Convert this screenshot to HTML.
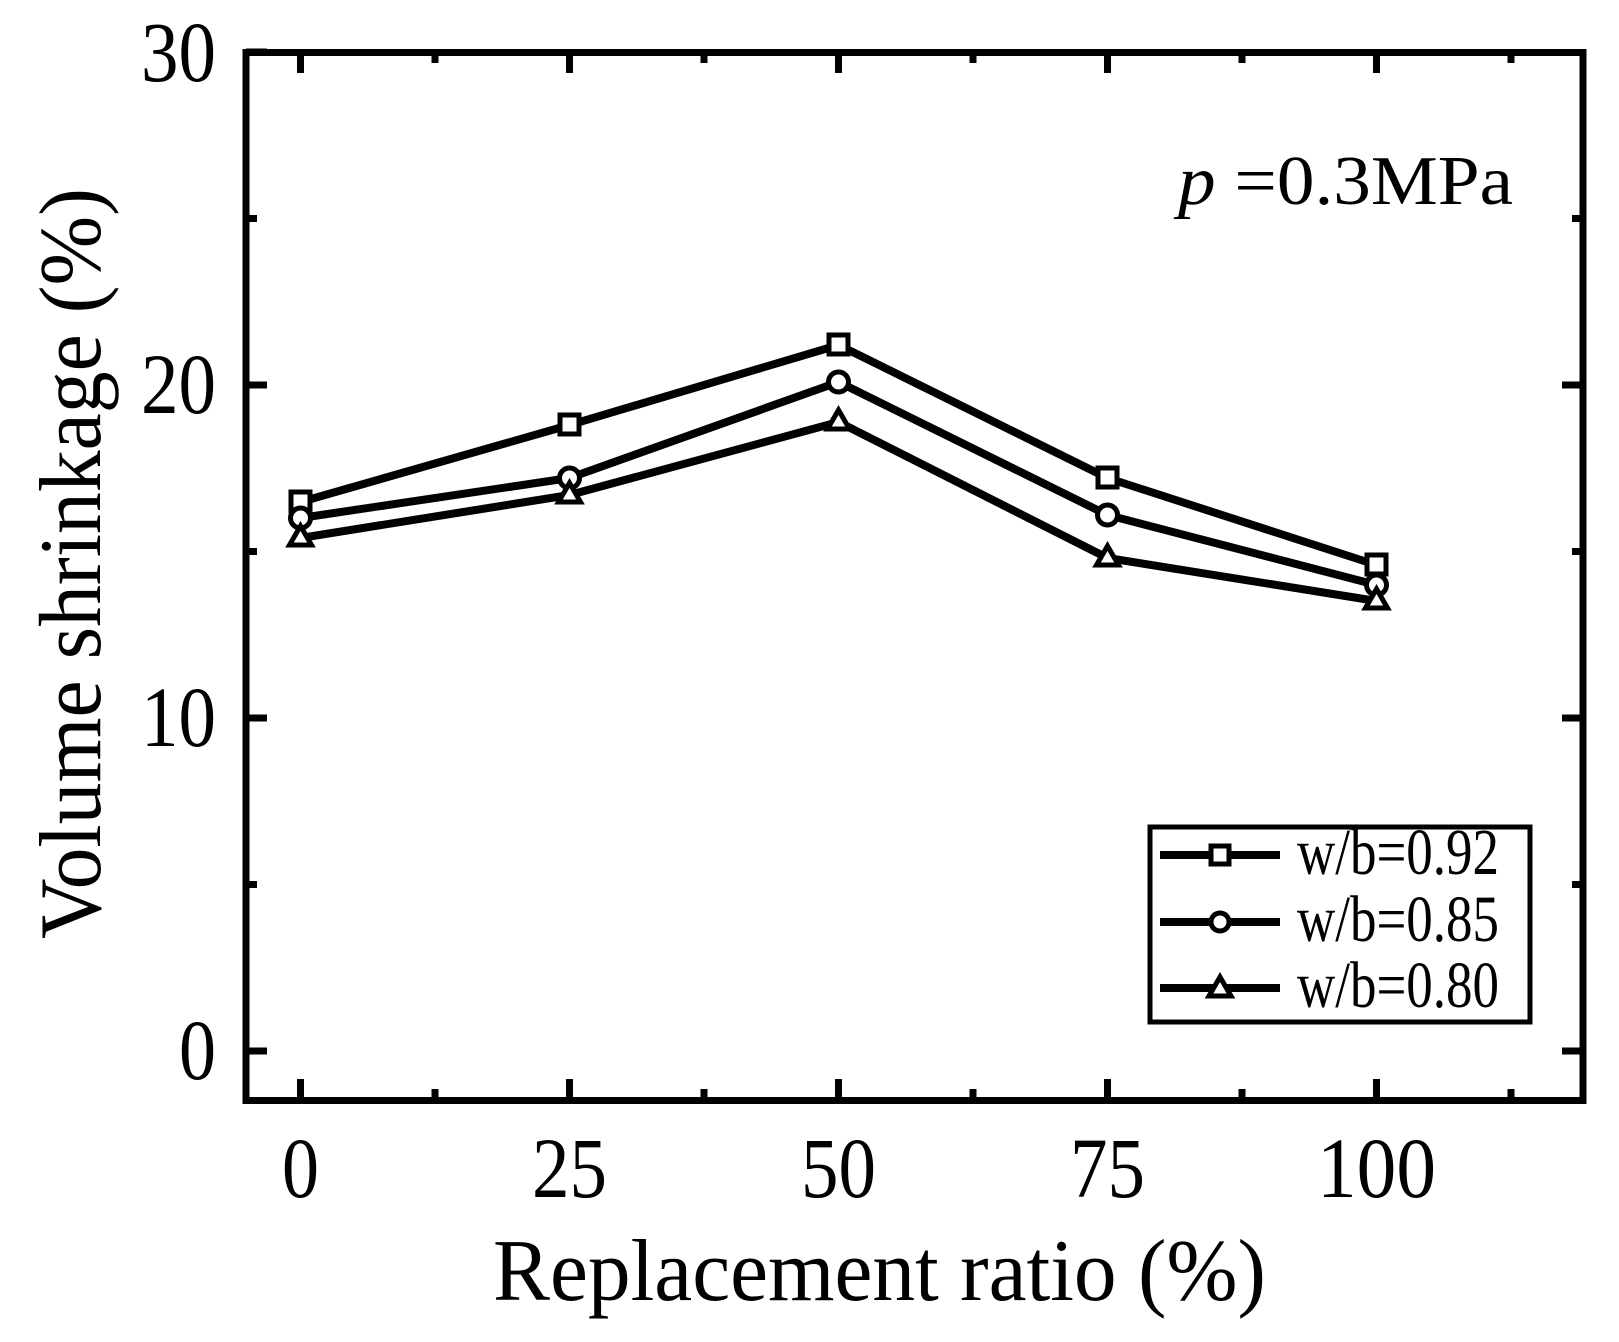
<!DOCTYPE html>
<html><head><style>html,body{margin:0;padding:0;background:#fff}svg{display:block}</style></head>
<body>
<svg width="1619" height="1342" viewBox="0 0 1619 1342" xmlns="http://www.w3.org/2000/svg" font-family="'Liberation Serif',serif">
<rect x="246" y="52.5" width="1337" height="1048" fill="none" stroke="#000" stroke-width="7"/>
<g stroke="#000" stroke-width="7">
<path d="M246 1051h21M246 718h21M246 385h21M246 52h21M1583 1051h-21M1583 718h-21M1583 385h-21"/>
<path d="M246 884.5h11M246 551.5h11M246 218.5h11M1583 884.5h-11M1583 551.5h-11M1583 218.5h-11"/>
<path d="M300.5 1100v-21M569.5 1100v-21M838.5 1100v-21M1107.5 1100v-21M1376.5 1100v-21M300.5 52v21M569.5 52v21M838.5 52v21M1107.5 52v21M1376.5 52v21"/>
<path d="M435 1100v-11M704 1100v-11M973 1100v-11M1242 1100v-11M1511 1100v-11M435 52v11M704 52v11M973 52v11M1242 52v11M1511 52v11"/>
</g>
<g fill="none" stroke="#000" stroke-width="8" stroke-linejoin="round">
<polyline points="300.5,502 569.5,425 838.5,345 1107.5,478 1376.5,565"/>
<polyline points="300.5,518 569.5,478 838.5,382 1107.5,515 1376.5,585"/>
<polyline points="300.5,538 569.5,495 838.5,422 1107.5,558 1376.5,601"/>
</g>
<g fill="#fff" stroke="#000" stroke-width="5">
<rect x="291" y="492" width="19" height="19"/><rect x="560" y="415" width="19" height="19"/><rect x="829" y="335" width="19" height="19"/><rect x="1098" y="468" width="19" height="19"/><rect x="1367" y="555" width="19" height="19"/>
<circle cx="300.5" cy="518" r="10"/><circle cx="569.5" cy="478" r="10"/><circle cx="838.5" cy="382" r="10"/><circle cx="1107.5" cy="515" r="10"/><circle cx="1376.5" cy="585" r="10"/>
<path d="M289.5 545l11-19l11 19z"/><path d="M558.5 502l11-19l11 19z"/><path d="M827.5 429l11-19l11 19z"/><path d="M1096.5 565l11-19l11 19z"/><path d="M1365.5 608l11-19l11 19z"/>
</g>
<rect x="1150" y="827" width="380" height="195" fill="#fff" stroke="#000" stroke-width="5"/>
<g stroke="#000" stroke-width="8"><path d="M1160 855h120M1160 922h120M1160 988h120"/></g>
<g fill="#fff" stroke="#000" stroke-width="5">
<rect x="1211" y="846" width="18" height="18"/><circle cx="1220" cy="922" r="9"/><path d="M1209 996l11-19l11 19z"/>
</g>
<g font-size="66" fill="#000">
<text x="1297" y="874" textLength="202" lengthAdjust="spacingAndGlyphs">w/b=0.92</text>
<text x="1297" y="941" textLength="202" lengthAdjust="spacingAndGlyphs">w/b=0.85</text>
<text x="1297" y="1007" textLength="202" lengthAdjust="spacingAndGlyphs">w/b=0.80</text>
</g>
<text x="1178" y="204" font-size="70" textLength="335" lengthAdjust="spacingAndGlyphs"><tspan font-style="italic">p</tspan> =0.3MPa</text>
<g font-size="86">
<text x="179" y="1079" textLength="37" lengthAdjust="spacingAndGlyphs">0</text>
<text x="141" y="746" textLength="75" lengthAdjust="spacingAndGlyphs">10</text>
<text x="141" y="413" textLength="75" lengthAdjust="spacingAndGlyphs">20</text>
<text x="141" y="81" textLength="75" lengthAdjust="spacingAndGlyphs">30</text>
</g>
<g font-size="86">
<text x="282" y="1197" textLength="37" lengthAdjust="spacingAndGlyphs">0</text>
<text x="532" y="1197" textLength="75" lengthAdjust="spacingAndGlyphs">25</text>
<text x="801" y="1197" textLength="75" lengthAdjust="spacingAndGlyphs">50</text>
<text x="1070" y="1197" textLength="75" lengthAdjust="spacingAndGlyphs">75</text>
<text x="1317" y="1197" textLength="119" lengthAdjust="spacingAndGlyphs">100</text>
</g>
<text x="493" y="1300" font-size="88" textLength="773" lengthAdjust="spacingAndGlyphs">Replacement ratio (%)</text>
<text transform="translate(100,939) rotate(-90)" font-size="88" textLength="751" lengthAdjust="spacingAndGlyphs">Volume shrinkage (%)</text>
</svg>
</body></html>
